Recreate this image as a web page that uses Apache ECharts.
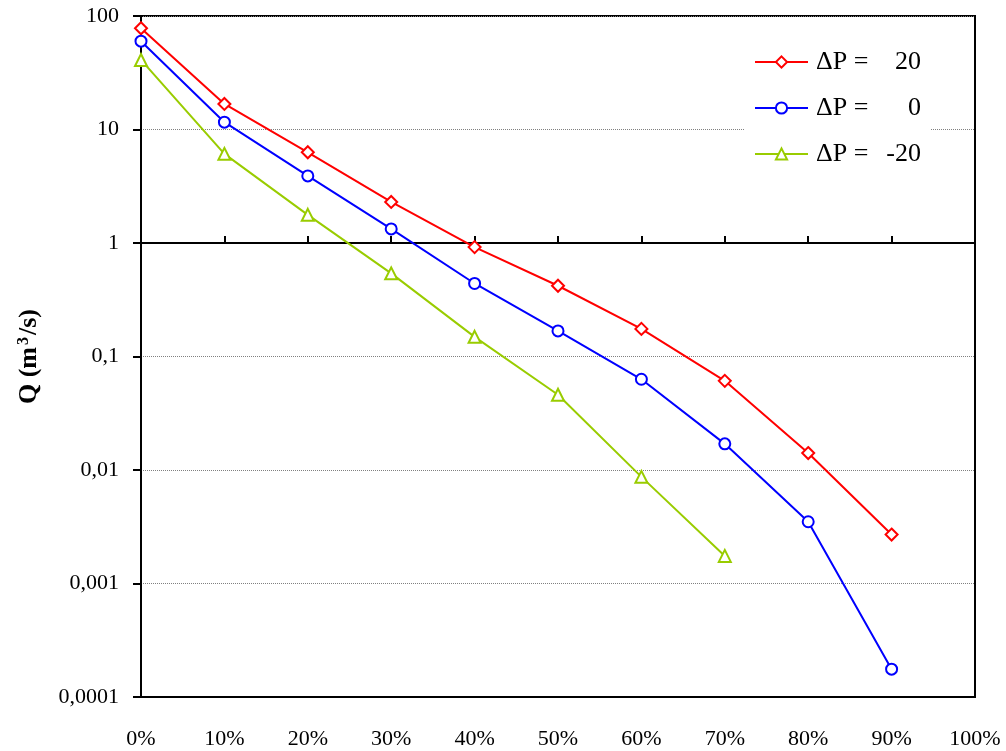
<!DOCTYPE html>
<html>
<head>
<meta charset="utf-8">
<script src="https://cdn.jsdelivr.net/npm/echarts@6/dist/echarts.min.js"></script>
<style>html,body{margin:0;padding:0;background:#fff}#c{width:1006px;height:751px}</style>
</head>
<body>
<div id="c"></div>
<script>
const xPercent = [0, 10, 20, 30, 40, 50, 60, 70, 80, 90];
const dpLabels = ['20', '0', '-20'];
const qPlus20 = [78, 16.8, 6.3, 2.3, 0.92, 0.42, 0.175, 0.061, 0.0141, 0.0027];
const qZero = [60, 11.6, 3.9, 1.33, 0.44, 0.168, 0.063, 0.017, 0.0035, 0.000176];
const qMinus20 = [41, 6.1, 1.77, 0.54, 0.149, 0.046, 0.0087, 0.00175];
const yTickLabels = {'100':'100','10':'10','1':'1','0.1':'0,1','0.01':'0,01','0.001':'0,001','0.0001':'0,0001'};

const FONT = '"Liberation Serif", "DejaVu Serif", serif';
function pts(vals){ return vals.map((v,i)=>[xPercent[i], v]); }

const chart = echarts.init(document.getElementById('c'));
const seriesDefs = [
  {vals: qPlus20, color: '#FF0000', symbol: 'emptyDiamond', size: 12},
  {vals: qZero, color: '#0000FF', symbol: 'emptyCircle', size: 11},
  {vals: qMinus20, color: '#99CC00', symbol: 'emptyTriangle', size: 12}
];
chart.setOption({
  animation: false,
  backgroundColor: '#fff',
  grid: {left: 141, right: 31, top: 16, bottom: 54, show: true, borderColor: '#000', borderWidth: 2, backgroundColor: 'transparent'},
  legend: {
    orient: 'vertical', left: 744, top: 39, padding: [10, 10, 10, 10],
    backgroundColor: '#fff', itemWidth: 53, itemHeight: 14, itemGap: 20,
    data: dpLabels,
    formatter: n => '{a|ΔP =}{b|' + n + '}',
    textStyle: {fontFamily: FONT, fontSize: 26, color: '#000',
      rich: {a: {fontFamily: FONT, fontSize: 26, color: '#000', width: 62, lineHeight: 26, padding: [0, 0, 0, 3]},
             b: {fontFamily: FONT, fontSize: 26, color: '#000', width: 43, align: 'right', lineHeight: 26}}}
  },
  xAxis: [
    {type: 'value', min: 0, max: 100, interval: 10, position: 'bottom',
     axisLine: {show: true, lineStyle: {color: '#000', width: 2}},
     axisTick: {show: false}, splitLine: {show: false},
     axisLabel: {formatter: '{value}%', fontFamily: FONT, fontSize: 22, color: '#000', margin: 31}},
    {type: 'value', min: 0, max: 100, interval: 10, position: 'bottom', offset: -454,
     axisLine: {show: true, lineStyle: {color: '#000', width: 2}},
     axisTick: {show: true, inside: true, length: 7, lineStyle: {color: '#000', width: 2}},
     axisLabel: {show: false}, splitLine: {show: false}}
  ],
  yAxis: {
    type: 'log', logBase: 10, min: 0.0001, max: 100,
    axisLine: {show: true, lineStyle: {color: '#000', width: 2}},
    axisTick: {show: true, length: 8, lineStyle: {color: '#000', width: 2}},
    minorTick: {show: false},
    splitLine: {show: true, lineStyle: {color: '#808080', width: 1, type: 'dotted'}},
    axisLabel: {fontFamily: FONT, fontSize: 22, color: '#000', margin: 22,
      formatter: v => { const k = String(+v.toPrecision(6)); return yTickLabels[k] !== undefined ? yTickLabels[k] : k; }},
    name: 'Q (m{sup|3}/s)', nameLocation: 'middle', nameGap: 99, nameRotate: 90,
    nameTextStyle: {fontFamily: FONT, fontSize: 26, fontWeight: 'bold', color: '#000',
      rich: {sup: {fontFamily: FONT, fontSize: 16, fontWeight: 'bold', color: '#000', verticalAlign: 'top', padding: [0, 2, 10, 2]}}}
  },
  series: seriesDefs.map((d, i) => ({
    name: dpLabels[i], type: 'line', xAxisIndex: 0, data: pts(d.vals),
    symbol: d.symbol, symbolSize: d.size, showSymbol: true,
    lineStyle: {color: d.color, width: 2},
    itemStyle: {color: d.color, borderColor: d.color, borderWidth: 2}
  }))
});
</script>
</body>
</html>
